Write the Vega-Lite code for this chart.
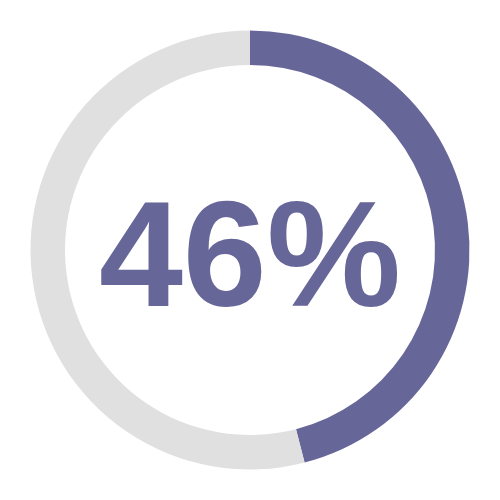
{
  "$schema": "https://vega.github.io/schema/vega-lite/v6.json",
  "width": 500,
  "height": 500,
  "autosize": {"type": "fit", "contains": "padding"},
  "padding": 0,
  "background": "white",
  "config": {"view": {"stroke": null}},
  "data": {"values": [
    {"part": "done", "value": 46, "ord": 1, "label": "46%"},
    {"part": "rest", "value": 54, "ord": 2, "label": ""}
  ]},
  "layer": [
    {
      "mark": {"type": "arc", "radius": 219.5, "radius2": 185},
      "encoding": {
        "theta": {"field": "value", "type": "quantitative", "stack": true},
        "order": {"field": "ord", "type": "quantitative"},
        "color": {
          "field": "part",
          "type": "nominal",
          "scale": {"domain": ["done", "rest"], "range": ["#676699", "#e0e0e0"]},
          "legend": null
        }
      }
    },
    {
      "transform": [{"filter": "datum.part === 'done'"}],
      "mark": {
        "type": "text",
        "font": "Liberation Sans",
        "fontWeight": "bold",
        "fontSize": 151,
        "align": "center",
        "baseline": "alphabetic",
        "dy": 55.5,
        "color": "#676699"
      },
      "encoding": {
        "text": {"field": "label", "type": "nominal"}
      }
    }
  ]
}
